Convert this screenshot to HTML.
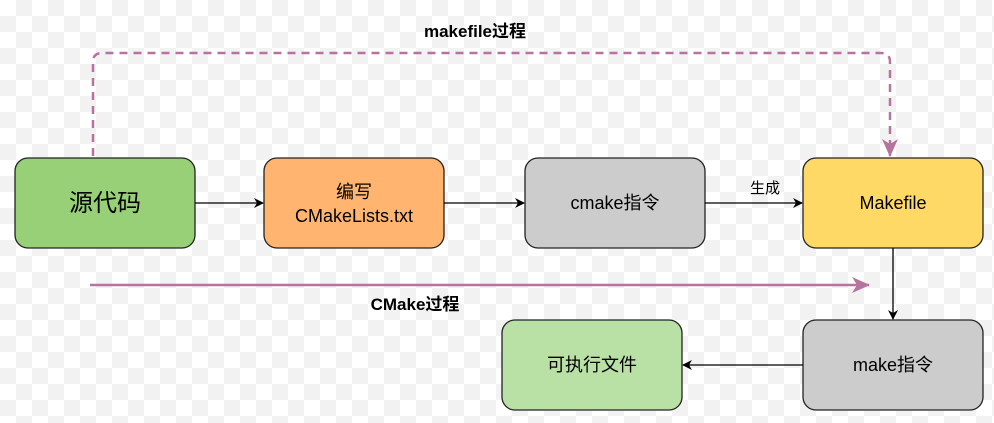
<!DOCTYPE html>
<html><head><meta charset="utf-8"><style>
body{margin:0;width:994px;height:423px;overflow:hidden;
background-color:#fff;
background-image:linear-gradient(45deg,#f2f2f2 25%,transparent 25%,transparent 75%,#f2f2f2 75%),linear-gradient(45deg,#f2f2f2 25%,transparent 25%,transparent 75%,#f2f2f2 75%);
background-size:32px 32px;background-position:0 0,16px 16px;
font-family:"Liberation Sans","Noto Sans CJK SC",sans-serif;}
</style></head><body>
<svg width="994" height="423" xmlns="http://www.w3.org/2000/svg" style="position:absolute;left:0;top:0">
<defs>
<marker id="a" markerWidth="10" markerHeight="10" refX="9" refY="5" orient="auto" markerUnits="userSpaceOnUse"><path d="M0,0 L10,5 L0,10 L3,5 Z" fill="#000"/></marker>
<marker id="p" markerWidth="18" markerHeight="16" refX="17" refY="8" orient="auto" markerUnits="userSpaceOnUse"><path d="M0,0 L18,8 L0,16 L5,8 Z" fill="#b5739d"/></marker>
</defs>
<g font-family="Liberation Sans, Noto Sans CJK SC, sans-serif" text-anchor="middle" fill="#000">
<path d="M93,156 V62 Q93,53 102,53 H881 Q890,53 890,62 V156" fill="none" stroke="#b5739d" stroke-width="2.5" stroke-dasharray="8,6" marker-end="url(#p)"/>
<text x="475" y="37" font-weight="bold" font-size="17">makefile过程</text>
<line x1="90" y1="285" x2="869" y2="285" stroke="#b5739d" stroke-width="2.5" marker-end="url(#p)"/>
<text x="415" y="310" font-weight="bold" font-size="17">CMake过程</text>
<g stroke="#222" stroke-width="1.3">
<rect x="15" y="158" width="180" height="90" rx="13" fill="#97d077"/>
<rect x="264" y="158" width="180" height="90" rx="13" fill="#ffb570"/>
<rect x="525" y="158" width="180" height="90" rx="13" fill="#cccccc"/>
<rect x="803" y="158" width="180" height="90" rx="13" fill="#ffd966"/>
<rect x="803" y="320" width="180" height="90" rx="13" fill="#cccccc"/>
<rect x="502" y="320" width="180" height="90" rx="13" fill="#b9e0a5"/>
</g>
<g stroke="#000" stroke-width="1.3" fill="none">
<line x1="195" y1="203" x2="263" y2="203" marker-end="url(#a)"/>
<line x1="444" y1="203" x2="524" y2="203" marker-end="url(#a)"/>
<line x1="705" y1="203" x2="802" y2="203" marker-end="url(#a)"/>
<line x1="893" y1="248" x2="893" y2="319" marker-end="url(#a)"/>
<line x1="803" y1="365" x2="683" y2="365" marker-end="url(#a)"/>
</g>
<text x="765" y="193" font-size="15">生成</text>
<text x="105" y="211" font-size="24">源代码</text>
<text x="354" y="198" font-size="18">编写</text>
<text x="354" y="222" font-size="18">CMakeLists.txt</text>
<text x="615" y="209" font-size="18">cmake指令</text>
<text x="893" y="209" font-size="18">Makefile</text>
<text x="893" y="371" font-size="18">make指令</text>
<text x="592" y="371" font-size="18">可执行文件</text>
</g>
</svg>
</body></html>
